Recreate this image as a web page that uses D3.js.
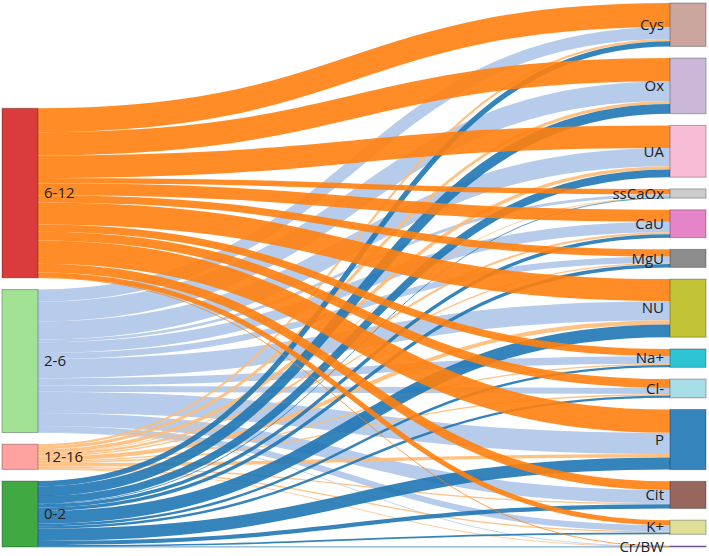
<!DOCTYPE html>
<html>
<head>
<meta charset="utf-8">
<script src="https://cdn.jsdelivr.net/npm/d3@7"></script>
<style>
  html, body { margin: 0; padding: 0; background: #fff; }
  svg { display: block; }
  text { font-family: "Open Sans", "Noto Sans", sans-serif; font-size: 15px; fill: #222; }
</style>
</head>
<body>
<svg id="chart" width="709" height="556"></svg>
<script>
// ---- data ----
const sources = ["6-12", "2-6", "12-16", "0-2"];
const targets = ["Cys", "Ox", "UA", "ssCaOx", "CaU", "MgU", "NU", "Na+", "Cl-", "P", "Cit", "K+", "Cr/BW"];
const values_6_12  = [23.9, 23.1, 22.5, 5.4, 11.8, 7.2, 22.0, 7.2, 8.9, 23.2, 8.6, 5.0, 0.4];
const values_2_6   = [12.1, 19.7, 18.2, 2.7, 10.6, 6.1, 19.1, 7.5, 6.1, 21.2, 13.0, 6.1, 0.3];
const values_12_16 = [2.1, 2.9, 3.4, 0.6, 2.0, 1.3, 4.1, 1.3, 1.3, 3.4, 1.3, 1.3, 0.1];
const values_0_2   = [5.2, 9.8, 7.6, 0.5, 3.4, 3.4, 12.8, 2.4, 2.4, 12.2, 4.2, 1.7, 0.2];

// ---- styles ----
const sourceNodeColors = ["#d62728", "#98df8a", "#ff9896", "#2ca02c"];
const sourceLinkColors = ["#ff7f0e", "#aec7e8", "#ffbb78", "#1f77b4"];
const targetNodeColors = ["#c49c94", "#c5b0d5", "#f7b6d2", "#c7c7c7", "#e377c2", "#7f7f7f",
                          "#bcbd22", "#17becf", "#9edae5", "#1f77b4", "#8c564b", "#dbdb8d", "#9467bd"];
const linkDrawOrder = [1, 2, 3, 0];

const W = 709, H = 556;
const extentTop = 3, extentBottom = 547;
const nodeWidth = 36, nodePadding = 11.7;

const matrix = [values_6_12, values_2_6, values_12_16, values_0_2];

const svg = d3.select("#chart");

const xCol = d3.scalePoint().domain([0, 1]).range([2, W - 3 - nodeWidth]);

const total = d3.sum(matrix.flat());
const maxN = Math.max(sources.length, targets.length);
const ky = (extentBottom - extentTop - (maxN - 1) * nodePadding) / total;
const hScale = d3.scaleLinear().domain([0, total]).range([0, total * ky]);

// source nodes (stacked to bottom of extent)
const srcTotals = matrix.map(r => d3.sum(r));
const leftTotalH = d3.sum(srcTotals, v => hScale(v)) + (sources.length - 1) * nodePadding;
let yAcc = extentBottom - leftTotalH;
const srcNodes = sources.map((name, i) => {
  const h = hScale(srcTotals[i]);
  const n = { name, x0: xCol(0), x1: xCol(0) + nodeWidth, y0: yAcc, y1: yAcc + h, color: sourceNodeColors[i] };
  yAcc += h + nodePadding;
  return n;
});

// target nodes (stacked from top)
const tgtTotals = targets.map((_, j) => d3.sum(matrix, r => r[j]));
yAcc = extentTop;
const tgtNodes = targets.map((name, j) => {
  const h = Math.max(1, hScale(tgtTotals[j]));
  const n = { name, x0: xCol(1), x1: xCol(1) + nodeWidth, y0: yAcc, y1: yAcc + h, color: targetNodeColors[j] };
  yAcc += hScale(tgtTotals[j]) + nodePadding;
  return n;
});

// links
const links = [];
const tgtOffset = tgtNodes.map(n => n.y0);
srcNodes.forEach((s, i) => {
  let sy = s.y0;
  targets.forEach((t, j) => {
    const w = hScale(matrix[i][j]);
    links.push({ i, j, w, sy: sy + w / 2, ty: tgtOffset[j] + w / 2, sx: s.x1, tx: tgtNodes[j].x0 });
    sy += w;
    tgtOffset[j] += w;
  });
});

const linkGen = d3.linkHorizontal();
const gLinks = svg.append("g").attr("fill", "none");
linkDrawOrder.forEach(i => {
  gLinks.selectAll(null)
    .data(links.filter(l => l.i === i))
    .join("path")
    .attr("d", l => linkGen({ source: [l.sx, l.sy], target: [l.tx, l.ty] }))
    .attr("stroke", sourceLinkColors[i])
    .attr("stroke-opacity", 0.9)
    .attr("stroke-width", l => Math.max(0.8, l.w));
});

const allNodes = srcNodes.concat(tgtNodes);
svg.append("g").selectAll("rect")
  .data(allNodes)
  .join("rect")
  .attr("x", d => d.x0)
  .attr("y", d => d.y0)
  .attr("width", d => d.x1 - d.x0)
  .attr("height", d => d.y1 - d.y0)
  .attr("fill", d => d.color)
  .attr("fill-opacity", 0.9)
  .attr("stroke", "#000")
  .attr("stroke-opacity", 0.3);

svg.append("g").selectAll("text")
  .data(allNodes)
  .join("text")
  .attr("x", d => d.x0 < W / 2 ? d.x1 + 6 : d.x0 - 6)
  .attr("y", d => (d.y0 + d.y1) / 2)
  .attr("dy", "0.35em")
  .attr("text-anchor", d => d.x0 < W / 2 ? "start" : "end")
  .text(d => d.name);
</script>
</body>
</html>
